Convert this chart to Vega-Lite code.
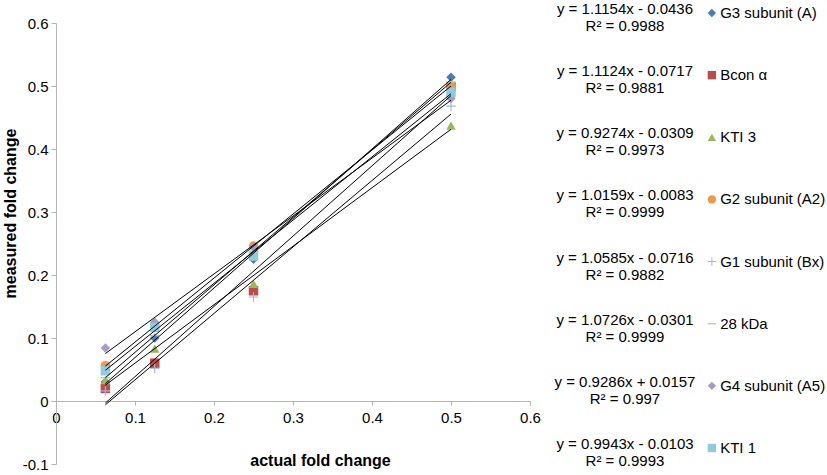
{
  "$schema": "https://vega.github.io/schema/vega-lite/v6.json",
  "padding": {"left": 2, "top": 2, "right": 0, "bottom": 2},
  "config": {
    "font": "Liberation Sans",
    "view": {"stroke": null},
    "concat": {"spacing": 10},
    "axis": {"grid": false, "labelFlush": false, "domainColor": "#b4b4b4", "tickColor": "#b4b4b4", "labelColor": "#000000", "labelFontSize": 15, "titleFontSize": 16, "titleFontWeight": "bold", "titleColor": "#000000"}
  },
  "datasets": {
    "points": [
      {"series": "G3 subunit (A)", "actual": 0.0625, "measured": 0.030},
      {"series": "G3 subunit (A)", "actual": 0.125, "measured": 0.100},
      {"series": "G3 subunit (A)", "actual": 0.25, "measured": 0.225},
      {"series": "G3 subunit (A)", "actual": 0.5, "measured": 0.514},
      {"series": "Bcon α", "actual": 0.0625, "measured": 0.020},
      {"series": "Bcon α", "actual": 0.125, "measured": 0.060},
      {"series": "Bcon α", "actual": 0.25, "measured": 0.175},
      {"series": "Bcon α", "actual": 0.5, "measured": 0.499},
      {"series": "KTI 3", "actual": 0.0625, "measured": 0.033},
      {"series": "KTI 3", "actual": 0.125, "measured": 0.083},
      {"series": "KTI 3", "actual": 0.25, "measured": 0.186},
      {"series": "KTI 3", "actual": 0.5, "measured": 0.437},
      {"series": "G2 subunit (A2)", "actual": 0.0625, "measured": 0.056},
      {"series": "G2 subunit (A2)", "actual": 0.125, "measured": 0.118},
      {"series": "G2 subunit (A2)", "actual": 0.25, "measured": 0.246},
      {"series": "G2 subunit (A2)", "actual": 0.5, "measured": 0.500},
      {"series": "G1 subunit (Bx)", "actual": 0.0625, "measured": 0.016},
      {"series": "G1 subunit (Bx)", "actual": 0.125, "measured": 0.052},
      {"series": "G1 subunit (Bx)", "actual": 0.25, "measured": 0.165},
      {"series": "G1 subunit (Bx)", "actual": 0.5, "measured": 0.468},
      {"series": "28 kDa", "actual": 0.0625, "measured": 0.037},
      {"series": "28 kDa", "actual": 0.125, "measured": 0.104},
      {"series": "28 kDa", "actual": 0.25, "measured": 0.238},
      {"series": "28 kDa", "actual": 0.5, "measured": 0.506},
      {"series": "G4 subunit (A5)", "actual": 0.0625, "measured": 0.084},
      {"series": "G4 subunit (A5)", "actual": 0.125, "measured": 0.125},
      {"series": "G4 subunit (A5)", "actual": 0.25, "measured": 0.244},
      {"series": "G4 subunit (A5)", "actual": 0.5, "measured": 0.480},
      {"series": "KTI 1", "actual": 0.0625, "measured": 0.048},
      {"series": "KTI 1", "actual": 0.125, "measured": 0.117},
      {"series": "KTI 1", "actual": 0.25, "measured": 0.230},
      {"series": "KTI 1", "actual": 0.5, "measured": 0.490}
    ],
    "legend": [
      {"series": "G3 subunit (A)", "fit": "y = 1.1154x - 0.0436\nR² = 0.9988"},
      {"series": "Bcon α", "fit": "y = 1.1124x - 0.0717\nR² = 0.9881"},
      {"series": "KTI 3", "fit": "y = 0.9274x - 0.0309\nR² = 0.9973"},
      {"series": "G2 subunit (A2)", "fit": "y = 1.0159x - 0.0083\nR² = 0.9999"},
      {"series": "G1 subunit (Bx)", "fit": "y = 1.0585x - 0.0716\nR² = 0.9882"},
      {"series": "28 kDa", "fit": "y = 1.0726x - 0.0301\nR² = 0.9999"},
      {"series": "G4 subunit (A5)", "fit": "y = 0.9286x + 0.0157\nR² = 0.997"},
      {"series": "KTI 1", "fit": "y = 0.9943x - 0.0103\nR² = 0.9993"}
    ]
  },
  "hconcat": [
    {
      "width": 474,
      "height": 441,
      "data": {"name": "points"},
      "layer": [
        {
          "mark": {"type": "point", "filled": true, "size": 90, "opacity": 1},
          "encoding": {
            "x": {
              "field": "actual", "type": "quantitative",
              "scale": {"domain": [0, 0.6], "nice": false},
              "axis": {"values": [0, 0.1, 0.2, 0.3, 0.4, 0.5, 0.6], "labelExpr": "datum.value == 0 ? '0' : format(datum.value, '.1f')", "offset": -63, "tickSize": 4, "labelPadding": 5, "title": "actual fold change", "titleX": 264, "titleY": 59, "titleBaseline": "middle"}
            },
            "y": {
              "field": "measured", "type": "quantitative",
              "scale": {"domain": [-0.1, 0.6], "nice": false},
              "axis": {"values": [-0.1, 0, 0.1, 0.2, 0.3, 0.4, 0.5, 0.6], "labelExpr": "datum.value == 0 ? '0' : replace(format(datum.value, '.1f'), '−', '-')", "tickSize": 5, "labelPadding": 3, "title": "measured fold change", "titleY": 190}
            },
            "shape": {
              "field": "series", "type": "nominal", "legend": null,
              "scale": {
                "domain": ["G3 subunit (A)", "Bcon α", "KTI 3", "G2 subunit (A2)", "G1 subunit (Bx)", "28 kDa", "G4 subunit (A5)", "KTI 1"],
                "range": ["diamond", "square", "triangle-up", "circle", "M-1,-0.12L-0.12,-0.12L-0.12,-1L0.12,-1L0.12,-0.12L1,-0.12L1,0.12L0.12,0.12L0.12,1L-0.12,1L-0.12,0.12L-1,0.12Z", "M-1,-0.15L1,-0.15L1,0.15L-1,0.15Z", "diamond", "square"]
              }
            },
            "color": {
              "field": "series", "type": "nominal", "legend": null,
              "scale": {
                "domain": ["G3 subunit (A)", "Bcon α", "KTI 3", "G2 subunit (A2)", "G1 subunit (Bx)", "28 kDa", "G4 subunit (A5)", "KTI 1"],
                "range": ["#4a7ebb", "#be4b48", "#98b954", "#f79646", "#9fb6dc", "#b3cf8a", "#a99ac8", "#8ecbdc"]
              }
            }
          }
        },
        {
          "transform": [{"regression": "measured", "on": "actual", "groupby": ["series"]}],
          "mark": {"type": "line", "color": "#000000", "strokeWidth": 1},
          "encoding": {
            "x": {"field": "actual", "type": "quantitative"},
            "y": {"field": "measured", "type": "quantitative"},
            "detail": {"field": "series", "type": "nominal"}
          }
        }
      ]
    },
    {
      "width": 275,
      "height": 441,
      "data": {"name": "legend"},
      "encoding": {
        "y": {"field": "series", "type": "nominal", "axis": null, "scale": {"type": "point", "padding": 0, "domain": ["G3 subunit (A)", "Bcon α", "KTI 3", "G2 subunit (A2)", "G1 subunit (Bx)", "28 kDa", "G4 subunit (A5)", "KTI 1"], "range": [-10, 425]}}
      },
      "layer": [
        {
          "mark": {"type": "text", "align": "center", "baseline": "middle", "fontSize": 15, "lineBreak": "\n", "lineHeight": 17, "dy": -4},
          "encoding": {
            "x": {"datum": 0.269, "type": "quantitative", "scale": {"domain": [0, 1], "nice": false}, "axis": null},
            "text": {"field": "fit"}
          }
        },
        {
          "mark": {"type": "point", "filled": true, "size": 70, "opacity": 1},
          "encoding": {
            "x": {"datum": 0.585, "type": "quantitative"},
            "shape": {
              "field": "series", "type": "nominal", "legend": null,
              "scale": {
                "domain": ["G3 subunit (A)", "Bcon α", "KTI 3", "G2 subunit (A2)", "G1 subunit (Bx)", "28 kDa", "G4 subunit (A5)", "KTI 1"],
                "range": ["diamond", "square", "triangle-up", "circle", "M-1,-0.12L-0.12,-0.12L-0.12,-1L0.12,-1L0.12,-0.12L1,-0.12L1,0.12L0.12,0.12L0.12,1L-0.12,1L-0.12,0.12L-1,0.12Z", "M-1,-0.15L1,-0.15L1,0.15L-1,0.15Z", "diamond", "square"]
              }
            },
            "color": {
              "field": "series", "type": "nominal", "legend": null,
              "scale": {
                "domain": ["G3 subunit (A)", "Bcon α", "KTI 3", "G2 subunit (A2)", "G1 subunit (Bx)", "28 kDa", "G4 subunit (A5)", "KTI 1"],
                "range": ["#4a7ebb", "#be4b48", "#98b954", "#f79646", "#9fb6dc", "#b3cf8a", "#a99ac8", "#8ecbdc"]
              }
            }
          }
        },
        {
          "mark": {"type": "text", "align": "left", "baseline": "middle", "fontSize": 15},
          "encoding": {
            "x": {"datum": 0.615, "type": "quantitative"},
            "text": {"field": "series"}
          }
        }
      ]
    }
  ]
}
